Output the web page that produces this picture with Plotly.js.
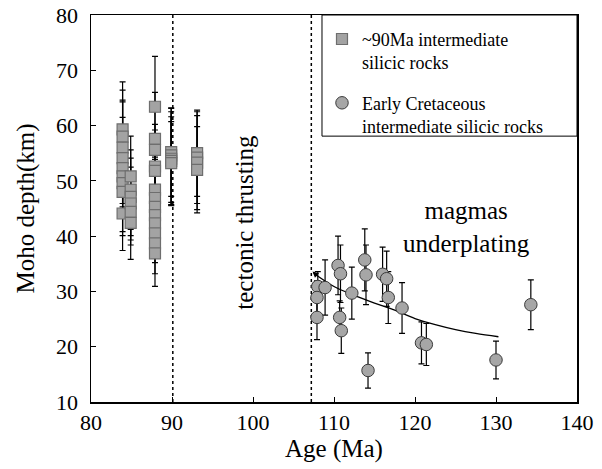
<!DOCTYPE html>
<html>
<head>
<meta charset="utf-8">
<script src="https://cdn.plot.ly/plotly-3.0.1.min.js"></script>
<style>html,body{margin:0;padding:0;background:#fff;}#chart{width:602px;height:469px;}</style>
</head>
<body>
<div id="chart"></div>
<script>
// ~90Ma intermediate silicic rocks (squares)
const sqAge = [83.9,83.9,83.9,83.9,83.9,83.9,83.9,83.9,83.9,
               84.9,84.9,84.9,84.9,84.9,84.9,
               87.9,87.9,87.9,87.9,87.9,87.9,87.9,87.9,87.9,87.9,87.9,87.9,87.9,
               89.9,89.9,89.9,89.9,89.9,
               93.1,93.1,93.1,93.1];
const sqDepth = [59.3,58.0,56.0,54.1,52.3,50.8,49.6,48.0,44.1,
                 50.8,48.4,47.1,45.9,44.4,42.4,
                 63.4,57.6,55.6,52.6,51.8,48.4,46.9,45.3,43.8,42.3,40.5,38.7,36.9,
                 55.2,54.6,54.0,53.6,53.2,
                 55.0,54.2,53.3,52.0];
const sqErr = [8.6,8.4,8.6,10.2,6.4,10.7,4.3,7.2,6.7,
               7.3,7.2,7.0,6.6,6.0,6.6,
               9.1,8.4,4.6,6.6,5.0,5.5,6.0,6.5,7.0,6.0,5.3,5.5,6.0,
               8.0,8.5,8.5,8.0,7.5,
               7.8,8.3,8.5,7.8];

// Early Cretaceous intermediate silicic rocks (circles)
const ciAge = [108.0,107.9,107.9,108.9,110.5,110.8,110.7,110.9,112.2,113.8,
               113.95,114.2,116.0,116.5,116.7,118.4,120.8,121.4,130.0,134.3];
const ciDepth = [30.9,28.9,25.3,30.7,34.7,33.2,25.3,22.9,29.7,35.7,
                 33.0,15.7,33.1,32.3,28.9,27.0,20.7,20.4,17.6,27.6];
const ciErr = [2.7,3.0,4.0,5.0,5.3,5.2,3.0,4.1,4.7,5.6,
               5.4,3.2,4.9,5.0,4.7,4.6,3.8,3.8,3.4,4.5];

// trend curve (magmas underplating)
const curveAge = [107.5,110,112.5,115,117.5,120,122.5,125,127.5,130.3];
const curveDepth = [33.3,30.9,29.3,27.9,26.6,25.1,24.0,23.1,22.4,21.8];

// boundaries
const boundaryAges = [90.1,107.2];

const xTicks = [80,90,100,110,120,130,140];
const yTicks = [10,20,30,40,50,60,70,80];

const serif = "Liberation Serif";

const traces = [
  {
    x: curveAge, y: curveDepth, mode: 'lines', type: 'scatter',
    line: {color: '#000', width: 1.3, shape: 'spline'},
    showlegend: false, hoverinfo: 'skip'
  },
  {
    x: sqAge, y: sqDepth, mode: 'markers', type: 'scatter',
    name: '~90Ma intermediate<br>silicic rocks', legendgroup: 'a',
    marker: {symbol: 'square', size: 11, color: '#a3a3a3', line: {color: '#6e6e6e', width: 1.2}},
    error_y: {type: 'data', array: sqErr, visible: true, color: '#000', thickness: 1.2, width: 3}
  },
  {
    x: ciAge, y: ciDepth, mode: 'markers', type: 'scatter',
    name: 'Early Cretaceous<br>intermediate silicic rocks', legendgroup: 'b',
    marker: {symbol: 'circle', size: 12.5, color: '#a6a6a6', line: {color: '#3a3a3a', width: 1}},
    error_y: {type: 'data', array: ciErr, visible: true, color: '#000', thickness: 1.2, width: 3}
  }
];

const shapes = boundaryAges.map(a => ({
  type: 'line', xref: 'x', yref: 'y', x0: a, x1: a, y0: 10, y1: 80,
  line: {color: '#000', width: 1.5, dash: 'dot'}, layer: 'below'
}));
shapes.push({
  type: 'rect', xref: 'paper', yref: 'paper', x0: 0.4753, x1: 1, y0: 0.687, y1: 1,
  line: {color: '#000', width: 1}, fillcolor: 'rgba(0,0,0,0)'
});

const layout = {
  width: 602, height: 469,
  margin: {l: 91, r: 25, t: 15, b: 67},
  paper_bgcolor: '#fff', plot_bgcolor: '#fff',
  font: {family: serif, color: '#000'},
  xaxis: {
    range: [80, 140], tickvals: xTicks, ticks: 'inside', ticklen: 5, tickcolor: '#000',
    showline: true, mirror: true, linecolor: '#000', linewidth: 1.5,
    showgrid: false, zeroline: false,
    tickfont: {family: serif, size: 22, color: '#000'},
    title: {text: 'Age (Ma)', font: {family: serif, size: 25, color: '#000'}, standoff: 5}
  },
  yaxis: {
    range: [10, 80], tickvals: yTicks, ticks: 'inside', ticklen: 5, tickcolor: '#000',
    showline: true, mirror: true, linecolor: '#000', linewidth: 1.5,
    showgrid: false, zeroline: false, ticklabelstandoff: 7,
    tickfont: {family: serif, size: 22, color: '#000'},
    title: {text: 'Moho depth(km)', font: {family: serif, size: 25, color: '#000'}, standoff: 14}
  },
  legend: {
    x: 0.4753, y: 0.985, xanchor: 'left', yanchor: 'top',
    bgcolor: 'rgba(255,255,255,0)', borderwidth: 0,
    font: {family: serif, size: 18, color: '#000'},
    traceorder: 'grouped', tracegroupgap: 14, valign: 'top'
  },
  shapes: shapes,
  annotations: [
    {x: 99.0, y: 42.6, xref: 'x', yref: 'y', text: 'tectonic thrusting', textangle: -90,
     showarrow: false, font: {family: serif, size: 25, color: '#000'}},
    {x: 126.3, y: 41.7, xref: 'x', yref: 'y', text: 'magmas<br>underplating',
     showarrow: false, font: {family: serif, size: 25, color: '#000'}},
    {x: 107.35, y: 33.6, xref: 'x', yref: 'y', ax: 108.1, ay: 32.6, axref: 'x', ayref: 'y',
     text: '', showarrow: true, arrowhead: 2, arrowsize: 1, arrowwidth: 1.2, arrowcolor: '#000'}
  ]
};

Plotly.newPlot('chart', traces, layout, {displayModeBar: false, staticPlot: true});
</script>
</body>
</html>
